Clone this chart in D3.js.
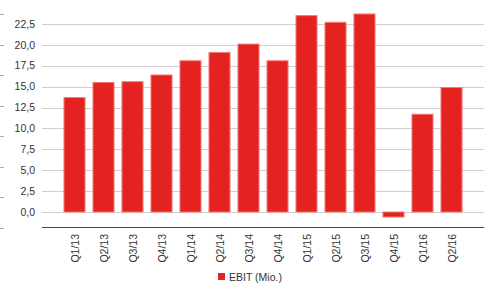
<!DOCTYPE html>
<html>
<head>
<meta charset="utf-8">
<script src="https://cdn.jsdelivr.net/npm/d3@7"></script>
<style>
  html, body { margin: 0; padding: 0; background: #fff; }
  svg { display: block; font-family: "Liberation Sans", Arial, sans-serif; }
</style>
</head>
<body>
<svg id="chart" width="494" height="286"></svg>
<script>
// quarters and EBIT values (Mio.)
const quarters = ["Q1/13", "Q2/13", "Q3/13", "Q4/13", "Q1/14", "Q2/14", "Q3/14",
    "Q4/14", "Q1/15", "Q2/15", "Q3/15", "Q4/15", "Q1/16", "Q2/16"];
const ebit = [13.7, 15.5, 15.6, 16.4, 18.1, 19.1, 20.1, 18.1, 23.5, 22.7, 23.7, -0.6, 11.7, 14.9];
const yTicks = [0, 2.5, 5, 7.5, 10, 12.5, 15, 17.5, 20, 22.5];
// unlabeled ticks on the far left edge (secondary axis)
const sideTicks = [0, 1, 2, 3, 4, 5, 6, 7];
const seriesName = "EBIT (Mio.)";

const svg = d3.select("#chart");
const barFill = "#e42320";
const barStroke = "#f17a78";

const gridLeft = 42, gridRight = 484;

const x = d3.scaleBand()
    .domain(quarters)
    .range([60, 466])
    .paddingInner(0.24)
    .paddingOuter(0.12);

const y = d3.scaleLinear()
    .domain([0, 22.5])
    .range([212, 24]);

const fmt = v => d3.format(".1f")(v).replace(".", ",");

// gridlines
svg.append("g")
    .selectAll("line")
    .data(yTicks)
    .join("line")
    .attr("x1", gridLeft)
    .attr("x2", gridRight)
    .attr("y1", d => Math.round(y(d)) + 0.5)
    .attr("y2", d => Math.round(y(d)) + 0.5)
    .attr("stroke", "#cfcfcf")
    .attr("stroke-width", 1);

// y labels
svg.append("g")
    .selectAll("text")
    .data(yTicks)
    .join("text")
    .attr("x", 35)
    .attr("y", d => y(d))
    .attr("dy", "0.35em")
    .attr("text-anchor", "end")
    .attr("font-size", 10.5)
    .attr("fill", "#333")
    .text(fmt);

// side ticks at left edge
const side = d3.scaleLinear().domain([0, 7]).range([227.5, 14]);
svg.append("g")
    .selectAll("line")
    .data(sideTicks)
    .join("line")
    .attr("x1", 0)
    .attr("x2", 4)
    .attr("y1", d => Math.round(side(d)) + 0.5)
    .attr("y2", d => Math.round(side(d)) + 0.5)
    .attr("stroke", "#aaa");

// bars
svg.append("g")
    .selectAll("rect")
    .data(quarters)
    .join("rect")
    .attr("x", d => x(d) + 0.5)
    .attr("width", x.bandwidth() - 1)
    .attr("y", (d, i) => y(Math.max(0, ebit[i])))
    .attr("height", (d, i) => Math.abs(y(ebit[i]) - y(0)))
    .attr("fill", barFill)
    .attr("stroke", barStroke)
    .attr("stroke-width", 1);

// bottom axis line
svg.append("line")
    .attr("x1", gridLeft)
    .attr("x2", gridRight)
    .attr("y1", 227.5)
    .attr("y2", 227.5)
    .attr("stroke", "#444")
    .attr("stroke-width", 1);

// x labels, rotated
svg.append("g")
    .selectAll("text")
    .data(quarters)
    .join("text")
    .attr("transform", d => `translate(${x(d) + x.bandwidth() / 2 + 4},234) rotate(-90)`)
    .attr("text-anchor", "end")
    .attr("font-size", 10.5)
    .attr("fill", "#333")
    .text(d => d);

// legend
const legend = svg.append("g").attr("transform", "translate(218,273)");
legend.append("rect")
    .attr("width", 7)
    .attr("height", 7)
    .attr("fill", barFill);
legend.append("text")
    .attr("x", 11)
    .attr("y", 7.5)
    .attr("font-size", 10.5)
    .attr("fill", "#333")
    .text(seriesName);
</script>
</body>
</html>
